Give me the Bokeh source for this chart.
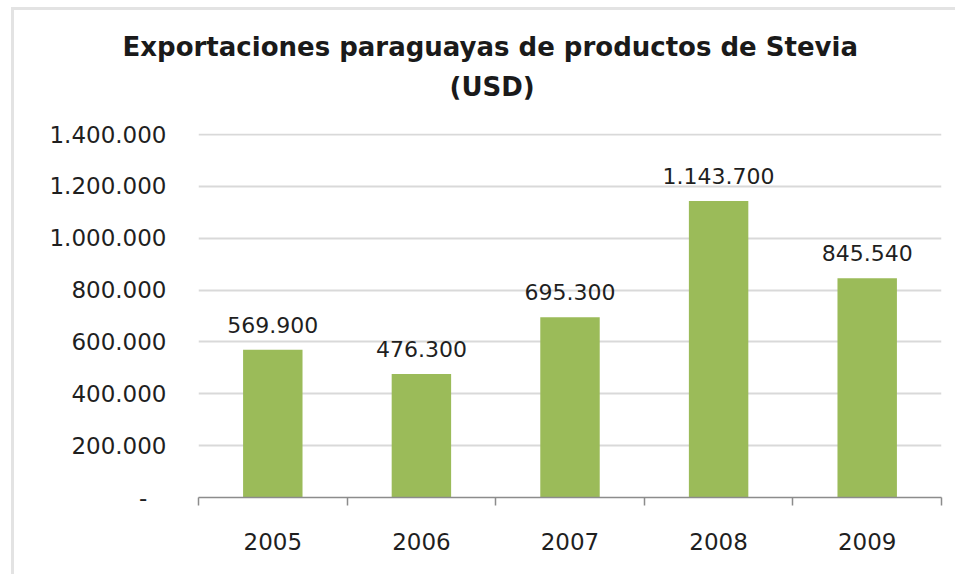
from bokeh.plotting import figure
from bokeh.models import (FixedTicker, CustomJSTickFormatter, Title, Range1d,
                          ColumnDataSource)
from bokeh.core.properties import value
from bokeh.embed import file_html
from bokeh.resources import INLINE

years = ["2005", "2006", "2007", "2008", "2009"]
values = [569900, 476300, 695300, 1143700, 845540]
y_ticks = [0, 200000, 400000, 600000, 800000, 1000000, 1200000, 1400000]
title_lines = ["Exportaciones paraguayas de productos de Stevia", "(USD)"]

def fmt(v):
    return f"{v:,}".replace(",", ".")

src = ColumnDataSource(dict(
    x=[i + 0.5 for i in range(len(years))],
    top=values,
    label=[fmt(v) for v in values],
))

FONT = "DejaVu Sans"

p = figure(width=944, height=567, output_backend="svg", toolbar_location=None,
           x_range=Range1d(0, len(years)), y_range=Range1d(0, 1404000),
           min_border_left=184, min_border_right=17, min_border_top=123,
           min_border_bottom=80)
p.styles = {"border-top": "3px solid #e3e3e3", "border-left": "3px solid #e3e3e3",
            "margin-left": "11px", "margin-top": "7px"}
p.outline_line_color = None
p.background_fill_color = "white"
p.border_fill_color = "white"

p.vbar(x="x", top="top", width=0.4, source=src, fill_color="#9BBB59",
       line_color=None)
p.text(x="x", y="top", text="label", source=src, text_align="center",
       text_baseline="alphabetic", y_offset=-25, text_font_size="22px",
       text_color="#1f1f1f", text_font=value(FONT))

# y axis
p.yaxis.ticker = FixedTicker(ticks=y_ticks)
p.yaxis.formatter = CustomJSTickFormatter(code="""
if (tick == 0) return "-\\u00a0\\u00a0\\u2009";
return String(Math.round(tick)).replace(/\\B(?=(\\d{3})+(?!\\d))/g, ".");
""")
p.yaxis.axis_line_color = None
p.yaxis.major_tick_line_color = None
p.yaxis.minor_tick_line_color = None
p.yaxis.major_label_standoff = 26
p.yaxis.major_label_text_font = FONT
p.yaxis.major_label_text_font_size = "23px"
p.yaxis.major_label_text_color = "#1f1f1f"

# x axis
p.xaxis.ticker = FixedTicker(ticks=[i + 0.5 for i in range(len(years))],
                             minor_ticks=list(range(len(years) + 1)))
p.xaxis.formatter = CustomJSTickFormatter(args=dict(labels=years),
                                          code="return labels[Math.floor(tick)];")
p.xaxis.axis_line_color = "#8c8c8c"
p.xaxis.axis_line_width = 1.5
p.xaxis.major_tick_line_color = None
p.xaxis.major_tick_out = 0
p.xaxis.major_tick_in = 0
p.xaxis.minor_tick_line_color = "#8c8c8c"
p.xaxis.minor_tick_line_width = 1.5
p.xaxis.minor_tick_out = 8
p.xaxis.minor_tick_in = 0
p.xaxis.major_label_standoff = 27
p.xaxis.major_label_text_font = FONT
p.xaxis.major_label_text_font_size = "23px"
p.xaxis.major_label_text_color = "#1f1f1f"

p.xgrid.grid_line_color = None
p.ygrid.grid_line_color = "#d9d9d9"
p.ygrid.grid_line_width = 2

spacer = Title(text=" ", text_font_size="1px", standoff=25)
t2 = Title(text=title_lines[1], align="left", offset=251, text_font=FONT,
           text_font_size="26px", text_font_style="bold", text_color="#1a1a1a",
           standoff=8)
t1 = Title(text=title_lines[0], align="left", offset=-76, text_font=FONT,
           text_font_size="26px", text_font_style="bold", text_color="#1a1a1a",
           standoff=7)
p.add_layout(spacer, "above")
p.add_layout(t2, "above")
p.add_layout(t1, "above")

open("out.html", "w").write(file_html(p, INLINE))
